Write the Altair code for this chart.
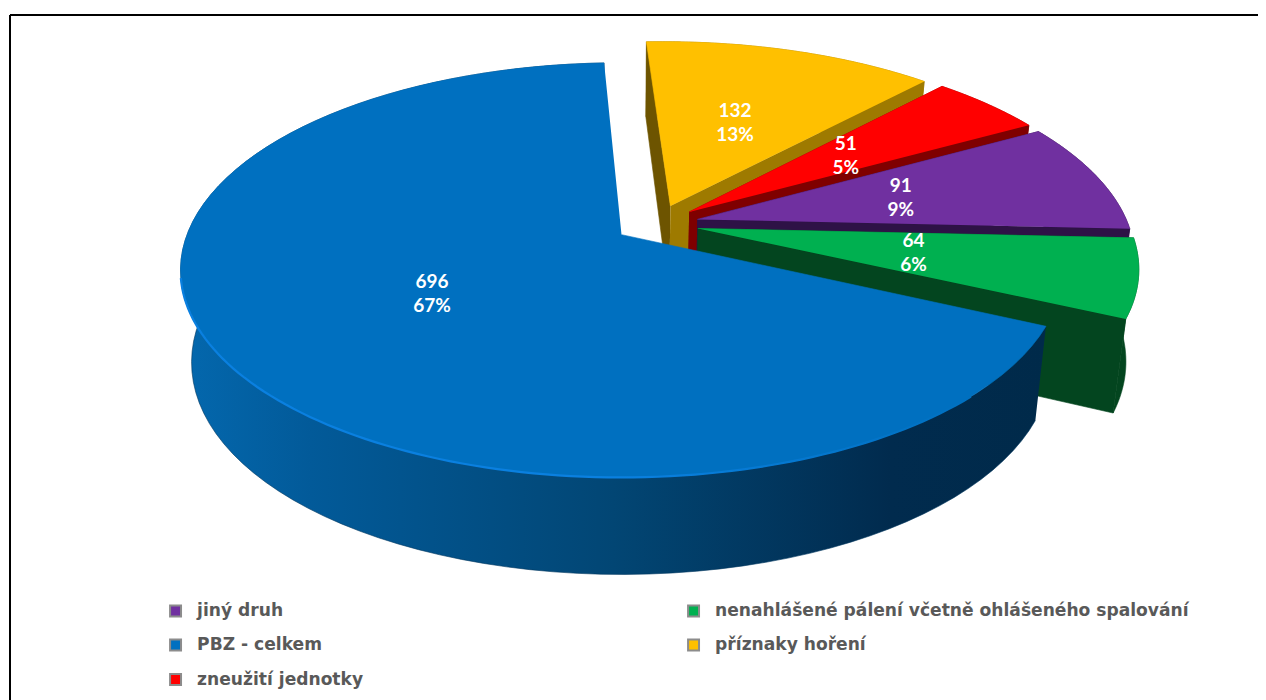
import math
import altair as alt
import pandas as pd

# Chart values
categories = ["jiný druh", "nenahlášené pálení včetně ohlášeného spalování",
              "PBZ - celkem", "příznaky hoření", "zneužití jednotky"]
values = [91, 64, 696, 132, 51]
top_colors = ["#7030A0", "#00B050", "#0070C0", "#FFC000", "#FF0000"]
radial_colors = ["#2E1246", "#03451F", "#002B4D", "#9E7A00", "#7F0000"]
back_colors = ["#2E1246", "#03451F", "#002B4D", "#6D5400", "#7F0000"]
draw_order = ["příznaky hoření", "zneužití jednotky", "jiný druh",
              "nenahlášené pálení včetně ohlášeného spalování", "PBZ - celkem"]
legend_order = ["jiný druh", "PBZ - celkem", "zneužití jednotky",
                "nenahlášené pálení včetně ohlášeného spalování", "příznaky hoření"]

# Pie geometry (a perspective view of a tilted disc)
CX, CY, AX, RZ, K = 622.0, 235.0, 434.6, 201.4, 0.171
SHRINK, EXPLODE, START = 0.975, 0.098, -2.7
HUB = (0.819, 0.574)
TOTAL = sum(values)


def project(X, Z, bottom=False):
    w = 1 + K * Z
    x = CX + AX * X / w
    y = CY - RZ * Z / w
    if bottom:
        d = w - 0.829
        x = CX + (x - CX) * SHRINK
        y = y + 97 - 15.8 * d - 125 * d * d
    return x, y


def polar(apex, deg, r=1.0):
    a = math.radians(deg)
    return apex[0] + r * math.sin(a), apex[1] + r * math.cos(a)


def arc_points(apex, a0, a1, bottom=False, steps=90):
    out = []
    for j in range(steps + 1):
        X, Z = polar(apex, a0 + (a1 - a0) * j / steps)
        out.append(project(X, Z, bottom))
    return out


def frame(points):
    return pd.DataFrame({"x": [p[0] for p in points], "y": [p[1] for p in points],
                         "i": list(range(len(points)))})


X_SCALE = alt.Scale(domain=[8, 1258], nice=False, zero=False)
Y_SCALE = alt.Scale(domain=[700, 8], nice=False, zero=False)


def shape(points, fill, stroke=None):
    kw = {"fill": fill} if fill is not None else {}
    return alt.Chart(frame(points)).mark_line(
        stroke=stroke if stroke is not None else (fill if isinstance(fill, str) else "#01375F"),
        strokeWidth=0.6, **kw
    ).encode(
        x=alt.X("x:Q", scale=X_SCALE, axis=None),
        y=alt.Y("y:Q", scale=Y_SCALE, axis=None),
        order="i:Q",
    )


slices = {}
cum = START
for name in draw_order:
    v = values[categories.index(name)]
    sweep = 360 * v / TOTAL
    mid = cum + sweep / 2
    m = math.radians(mid)
    apex = (EXPLODE * (HUB[0] + math.sin(m)), EXPLODE * (HUB[1] + math.cos(m)))
    slices[name] = dict(a0=cum, a1=cum + sweep, mid=mid, apex=apex)
    cum += sweep

blue_wall = alt.Gradient(
    gradient="linear", x1=0, x2=1, y1=0, y2=0,
    stops=[alt.GradientStop(color="#0468AE", offset=0),
           alt.GradientStop(color="#025A99", offset=0.15),
           alt.GradientStop(color="#024674", offset=0.5),
           alt.GradientStop(color="#012B4E", offset=0.82),
           alt.GradientStop(color="#002A4A", offset=1)])
blue_rim = alt.Gradient(
    gradient="linear", x1=0, x2=1, y1=0, y2=0,
    stops=[alt.GradientStop(color="#0A80E0", offset=0),
           alt.GradientStop(color="#0A80E0", offset=0.55),
           alt.GradientStop(color="#0070C0", offset=1)])

layers = []

# Legend source, hidden below the pie
legend_df = pd.DataFrame({"cat": categories, "x": [620] * 5, "y": [250] * 5})
layers.append(
    alt.Chart(legend_df).mark_square(size=30).encode(
        x=alt.X("x:Q", scale=X_SCALE, axis=None),
        y=alt.Y("y:Q", scale=Y_SCALE, axis=None),
        fill=alt.Fill("cat:N",
                      scale=alt.Scale(domain=legend_order,
                                      range=[top_colors[categories.index(c)] for c in legend_order]),
                      sort=legend_order,
                      legend=alt.Legend(
                          title=None, orient="none", legendX=159, legendY=594, columns=2,
                          columnPadding=320, rowPadding=14.5, symbolType="square",
                          symbolSize=120, symbolStrokeColor="#8C8C8C", symbolStrokeWidth=2,
                          labelFont="DejaVu Sans", labelFontSize=17.1, labelFontWeight="bold",
                          labelColor="#595959", labelLimit=600, labelOffset=13,
                          symbolOpacity=1)),
    )
)

for name in draw_order:
    s = slices[name]
    idx = categories.index(name)
    apex, a0, a1 = s["apex"], s["a0"], s["a1"]
    apex_top = project(*apex)
    apex_bot = project(*apex, bottom=True)
    top_arc = arc_points(apex, a0, a1)
    bot_arc = arc_points(apex, a0, a1, bottom=True)
    is_blue = name == "PBZ - celkem"
    if not is_blue:
        layers.append(shape(top_arc + bot_arc[::-1], radial_colors[idx]))
        layers.append(shape([apex_top, top_arc[0], bot_arc[0], apex_bot], back_colors[idx]))
        layers.append(shape([apex_top, top_arc[-1], bot_arc[-1], apex_bot], radial_colors[idx]))
    else:
        layers.append(shape(top_arc + bot_arc[::-1], blue_wall))
    layers.append(shape([apex_top] + top_arc, top_colors[idx]))
    if is_blue:
        rim = arc_points(apex, 258, 135)
        layers.append(
            alt.Chart(frame(rim)).mark_line(stroke=blue_rim, strokeWidth=2.2).encode(
                x=alt.X("x:Q", scale=X_SCALE, axis=None),
                y=alt.Y("y:Q", scale=Y_SCALE, axis=None),
                order="i:Q",
            )
        )

# Value labels, half way along each slice's middle radius
lab_x, lab_y, lab_t = [], [], []
for name in draw_order:
    s = slices[name]
    v = values[categories.index(name)]
    px, py = project(*polar(s["apex"], s["mid"], 0.5))
    lab_x.append(px)
    lab_y.append(py)
    lab_t.append(f"{v}\n{round(100 * v / TOTAL)}%")
layers.append(
    alt.Chart(pd.DataFrame({"x": lab_x, "y": lab_y, "t": lab_t})).mark_text(
        color="white", font="Lato", fontSize=19, fontWeight="bold",
        lineBreak="\n", lineHeight=24.5, align="center", baseline="middle", dy=-12,
    ).encode(
        x=alt.X("x:Q", scale=X_SCALE, axis=None),
        y=alt.Y("y:Q", scale=Y_SCALE, axis=None),
        text="t:N",
    )
)

# Chart frame: its top and left edges are what shows in the picture
layers.append(
    alt.Chart(pd.DataFrame({"x": [10, 10], "y": [15, 700], "i": [0, 1]})).mark_line(
        color="black", strokeWidth=2).encode(
        x=alt.X("x:Q", scale=X_SCALE, axis=None),
        y=alt.Y("y:Q", scale=Y_SCALE, axis=None), order="i:Q")
)
layers.append(
    alt.Chart(pd.DataFrame({"x": [10, 1258], "y": [15, 15], "i": [0, 1]})).mark_line(
        color="black", strokeWidth=2).encode(
        x=alt.X("x:Q", scale=X_SCALE, axis=None),
        y=alt.Y("y:Q", scale=Y_SCALE, axis=None), order="i:Q")
)

chart = alt.layer(*layers).properties(
    width=1250, height=692, padding=0, background="white",
    autosize=alt.AutoSizeParams(type="none"),
).configure_view(stroke=None)

chart.save("out.html", embed_options={"renderer": "svg", "actions": False})
